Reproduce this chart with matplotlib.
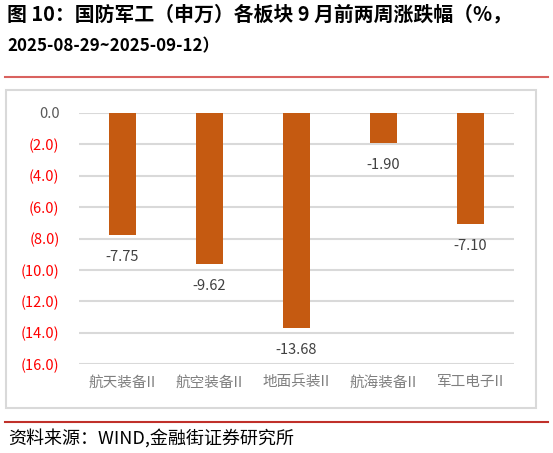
import matplotlib.pyplot as plt
from matplotlib.patches import Rectangle
from matplotlib.lines import Line2D

plt.rcParams['font.family'] = ['Noto Sans CJK SC', 'DejaVu Sans']

# 各板块涨跌幅 (%)
sectors = ['航天装备II', '航空装备II', '地面兵装II', '航海装备II', '军工电子II']
changes = [-7.75, -9.62, -13.68, -1.90, -7.10]
yticks = [0, -2, -4, -6, -8, -10, -12, -14, -16]
ytick_labels = ['0.0', '(2.0)', '(4.0)', '(6.0)', '(8.0)', '(10.0)', '(12.0)', '(14.0)', '(16.0)']

W, H = 553, 453
fig = plt.figure(figsize=(W / 100, H / 100), dpi=100)

def fx(px):
    return px / W

def fy(py):
    return 1 - py / H

# title
fig.text(fx(7), fy(14), '图 10：国防军工（申万）各板块 9 月前两周涨跌幅（%，',
         fontsize=14.3, fontweight='bold', va='center', ha='left', color='black')
fig.text(fx(7), fy(46), '2025-08-29~2025-09-12）',
         fontsize=12.2, fontweight='bold', va='center', ha='left', color='black')

# red separator lines
fig.add_artist(Line2D([fx(5), fx(548)], [fy(77), fy(77)], color='#D9625F', lw=1.5))
fig.add_artist(Line2D([fx(5), fx(548)], [fy(421.5), fy(421.5)], color='#C0302A', lw=1.5))

# chart frame
fig.add_artist(Rectangle((fx(6), fy(408)), fx(536) - fx(6), fy(90) - fy(408),
                         fill=False, edgecolor='#D9D9D9', lw=1.5))

ax = fig.add_axes([fx(79), fy(364.3), fx(514) - fx(79), fy(112.7) - fy(364.3)])
x = range(len(sectors))
ax.bar(x, changes, width=0.31, color='#C55A11', zorder=3)

for xi, v in zip(x, changes):
    ax.text(xi, v - 0.95, f'{v:.2f}', ha='center', va='top', fontsize=10.5, color='#404040')

ax.set_ylim(-16, 0)
ax.set_xlim(-0.5, len(sectors) - 0.5)
ax.set_yticks(yticks)
ax.set_yticklabels(ytick_labels)
for lbl, v in zip(ax.get_yticklabels(), yticks):
    lbl.set_color('#595959' if v == 0 else '#FF0000')
    lbl.set_fontsize(10.5)

ax.set_xticks(list(x))
ax.set_xticklabels(sectors, fontsize=10.5, color='#7F7F7F')
ax.tick_params(axis='both', length=0)
ax.tick_params(axis='y', pad=14)
ax.tick_params(axis='x', pad=8)

ax.grid(axis='y', color='#D9D9D9', lw=1.5, zorder=0)
for s in ax.spines.values():
    s.set_visible(False)

fig.text(fx(8), fy(438), '资料来源：WIND,金融街证券研究所', fontsize=13,
         style='italic', va='center', ha='left', color='black')

fig.savefig('out.png', dpi=100)
